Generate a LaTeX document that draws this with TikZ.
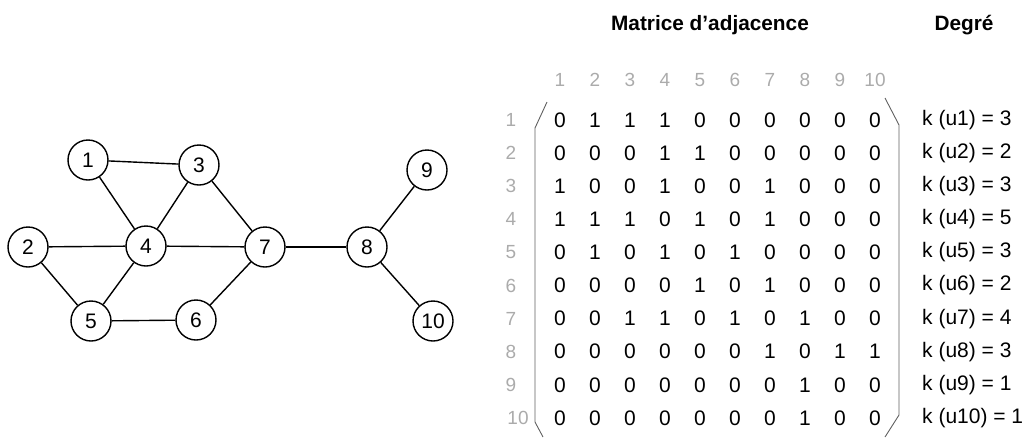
\documentclass[tikz,border=0pt]{standalone}
\usepackage{fontspec}
\setmainfont{Liberation Sans}
\definecolor{lblgrey}{HTML}{ABABAB}
\definecolor{brkgrey}{HTML}{606060}
\tikzset{
  vert/.style={circle, draw=black, line width=1.4pt, minimum size=40pt, inner sep=0pt, fill=white, font=\fontsize{21}{24}\selectfont},
  edge/.style={line width=1.4pt, black},
  entry/.style={inner sep=0pt, font=\fontsize{21}{24}\selectfont},
  idx/.style={inner sep=0pt, text=lblgrey, font=\fontsize{19}{22}\selectfont},
  deg/.style={inner sep=0pt, anchor=west, font=\fontsize{21}{24}\selectfont},
  ttl/.style={inner sep=0pt, font=\bfseries\fontsize{20.8}{24}\selectfont},
  brk/.style={line width=0.9pt, brkgrey}
}
\begin{document}
\begin{tikzpicture}[x=1pt,y=-1pt]
\useasboundingbox (0,0) rectangle (1023,437);
% graph
\node[vert] (n1) at (88,160) {1};
\node[vert] (n3) at (199,165) {3};
\node[vert] (n2) at (28,247) {2};
\node[vert] (n4) at (146,246) {4};
\node[vert] (n7) at (265,247) {7};
\node[vert] (n8) at (367,247) {8};
\node[vert] (n9) at (427,170) {9};
\node[vert] (n10) at (433,321) {10};
\node[vert] (n5) at (91,321) {5};
\node[vert] (n6) at (196,320) {6};
\foreach \a/\b in {n1/n3,n1/n4,n3/n4,n3/n7,n2/n4,n2/n5,n4/n5,n4/n7,n5/n6,n6/n7,n7/n8,n8/n9,n8/n10}
  \draw[edge] (\a) -- (\b);
% titles
\node[ttl] (t1) at (710,25) {Matrice d’adjacence};
\node[ttl] (t2) at (964,25) {Degré};
% column headers
\foreach \j in {1,...,10}
  \node[idx] (h\j) at ({560+(\j-1)*35},80) {\j};
% row labels
\foreach \i in {1,...,9}
  \node[idx] (r\i) at (511,{120+(\i-1)*33.1}) {\i};
\node[idx] (r10) at (518,{120+9*33.1}) {10};
% matrix
\foreach \row [count=\i] in {
 {0,1,1,1,0,0,0,0,0,0},
 {0,0,0,1,1,0,0,0,0,0},
 {1,0,0,1,0,0,1,0,0,0},
 {1,1,1,0,1,0,1,0,0,0},
 {0,1,0,1,0,1,0,0,0,0},
 {0,0,0,0,1,0,1,0,0,0},
 {0,0,1,1,0,1,0,1,0,0},
 {0,0,0,0,0,0,1,0,1,1},
 {0,0,0,0,0,0,0,1,0,0},
 {0,0,0,0,0,0,0,1,0,0}}
{
  \foreach \v [count=\j] in \row
    \node[entry] (m-\i-\j) at ({560+(\j-1)*35},{120+(\i-1)*33.1}) {\v};
}
% degrees
\foreach \i/\d in {1/3,2/2,3/3,4/5,5/3,6/2,7/4,8/3,9/1,10/1}
  \node[deg] (k\i) at (922,{120+(\i-1)*33.1}) {k (u\i) = \d};
% brackets
\coordinate (lb1) at (547,102);
\coordinate (lb2) at (535,128);
\coordinate (lb3) at (535,422);
\coordinate (lb4) at (543,437);
\coordinate (rb1) at (885,98);
\coordinate (rb2) at (899,125);
\coordinate (rb3) at (899,415);
\coordinate (rb4) at (885,437);
\draw[brk] (lb1) -- (lb2) -- (lb3) -- (lb4);
\draw[brk] (rb1) -- (rb2) -- (rb3) -- (rb4);
\end{tikzpicture}
\end{document}
